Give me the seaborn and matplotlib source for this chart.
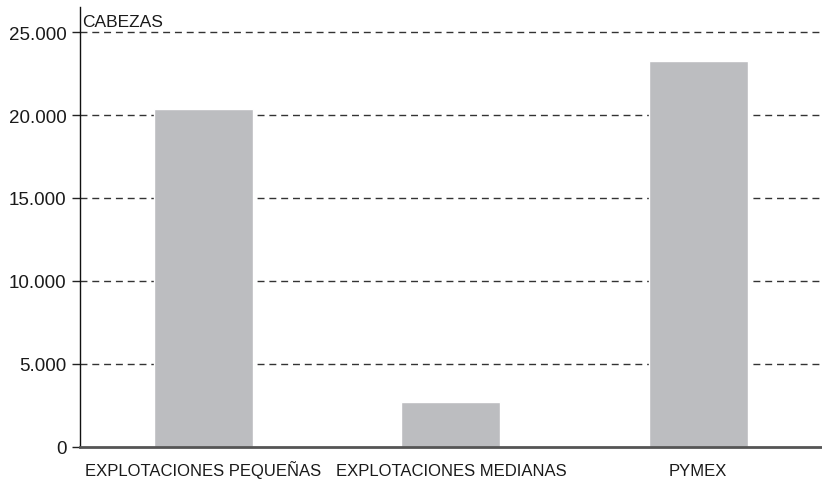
import matplotlib
matplotlib.use("Agg")
import pandas as pd
import seaborn as sns
from matplotlib import pyplot as plt
from matplotlib.ticker import FixedLocator, FuncFormatter

# Dades
categories = ["EXPLOTACIONES PEQUEÑAS", "EXPLOTACIONES MEDIANAS", "PYMEX"]
cabezas = [20350, 2700, 23250]
yticks = [0, 5000, 10000, 15000, 20000, 25000]

df = pd.DataFrame({"cat": categories, "val": cabezas})

sns.set_style("white")
plt.rcParams["font.family"] = ["Liberation Sans", "DejaVu Sans"]

fig = plt.figure(figsize=(8.22, 4.81), dpi=100)
ax = fig.add_axes([0.097, 0.069, 0.903, 0.914])

sns.barplot(data=df, x="cat", y="val", order=categories, color="#bcbdc0",
            width=0.4, saturation=1, ax=ax)

ax.set_ylim(0, 26500)
ax.set_xlim(-0.5, 2.5)
ax.set_yticks(yticks)
ax.yaxis.set_major_formatter(FuncFormatter(lambda v, p: f"{int(v):,}".replace(",", ".")))
for t in yticks[1:]:
    ax.axhline(t, color="#333333", lw=1, ls=(0, (5, 3.5)), zorder=0)

ax.xaxis.set_minor_locator(FixedLocator([0.5, 1.5, 2.5]))
ax.tick_params(axis="x", which="major", length=0, labelsize=12, pad=20, colors="#1a1a1a")
ax.tick_params(axis="x", which="minor", length=8, width=1, color="#222222", direction="out")
ax.tick_params(axis="y", length=6, width=1, color="#222222", labelsize=13.5, left=True,
               labelcolor="#1a1a1a")
# alinear per la línia base (la Ñ no desplaça l'etiqueta)
for lbl in ax.get_xticklabels():
    lbl.set_verticalalignment("baseline")

ax.set_xlabel("")
ax.set_ylabel("")
ax.spines["top"].set_visible(False)
ax.spines["right"].set_visible(False)
ax.spines["left"].set_color("#111111")
ax.spines["left"].set_linewidth(1)
ax.spines["bottom"].set_color("#555555")
ax.spines["bottom"].set_linewidth(2)

ax.text(-0.49, 25200, "CABEZAS", fontsize=12.5, color="#1a1a1a", va="bottom", ha="left")

plt.savefig("out.png", dpi=100)
